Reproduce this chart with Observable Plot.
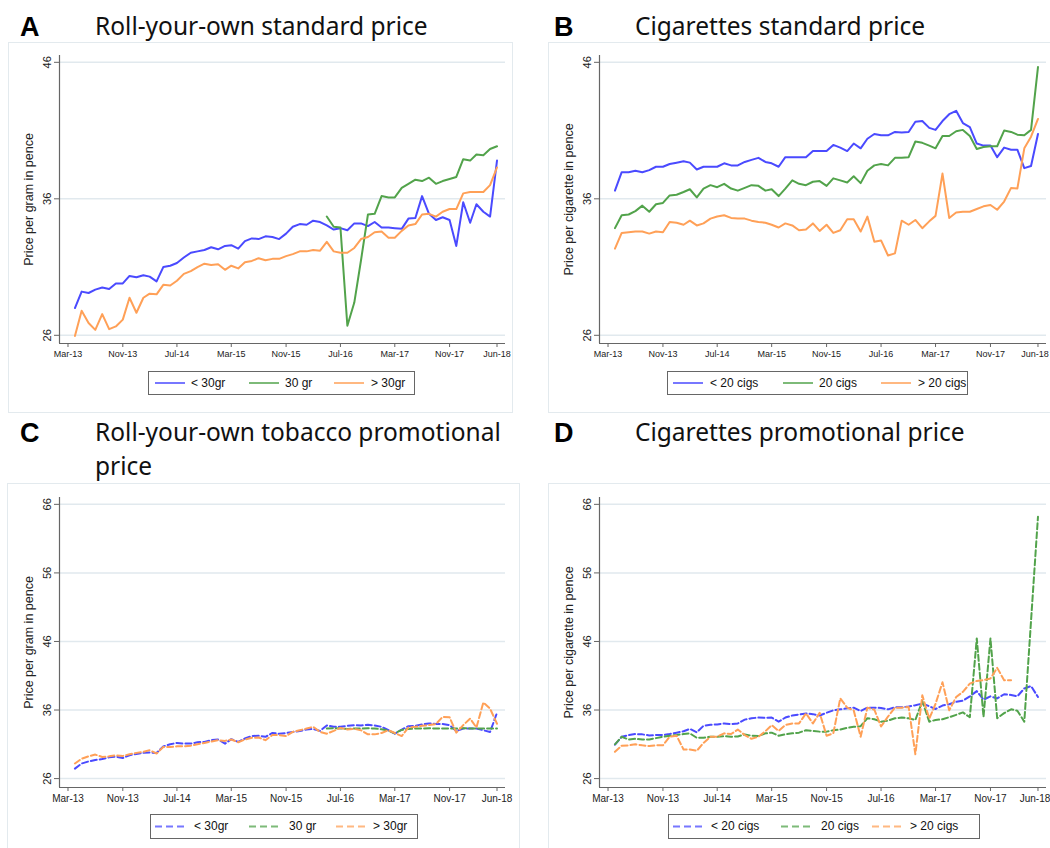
<!DOCTYPE html>
<html>
<head>
<meta charset="utf-8">
<script src="https://cdn.jsdelivr.net/npm/d3@7"></script>
<script src="https://cdn.jsdelivr.net/npm/@observablehq/plot@0.6"></script>
<style>
  html, body { margin: 0; padding: 0; background: #fff; }
  body { width: 1050px; height: 848px; overflow: hidden; position: relative; font-family: "Liberation Sans", Arial, sans-serif; }
  .box { position: absolute; border: 1.5px solid #e3eaee; box-sizing: border-box; }
  .letter { position: absolute; font: bold 27px/30px "Liberation Sans", Arial, sans-serif; color: #000; }
  .title { position: absolute; font: 24.5px/34px "Noto Sans", sans-serif; color: #111; }
  .legend { position: absolute; border: 1px solid #666; background: #fff; box-sizing: border-box; height: 24px; }
  .legend .item { position: absolute; top: 0; height: 22px; font: 12px/22px "Liberation Sans", Arial, sans-serif; color: #111; white-space: nowrap; }
  .legend svg { position: absolute; top: 0; }
</style>
</head>
<body>
<script>
// ---------- data ----------
const firstMonth = new Date(Date.UTC(2013, 3, 1));   // Apr-13
const lastMonthExcl = new Date(Date.UTC(2018, 6, 1)); // after Jun-18
const months = d3.utcMonth.range(firstMonth, lastMonthExcl); // 63 monthly observations

const tickLabels = ["Mar-13", "Nov-13", "Jul-14", "Mar-15", "Nov-15", "Jul-16", "Mar-17", "Nov-17", "Jun-18"];
const tickDates = [
  new Date(Date.UTC(2013, 2, 1)), new Date(Date.UTC(2013, 10, 1)), new Date(Date.UTC(2014, 6, 1)),
  new Date(Date.UTC(2015, 2, 1)), new Date(Date.UTC(2015, 10, 1)), new Date(Date.UTC(2016, 6, 1)),
  new Date(Date.UTC(2017, 2, 1)), new Date(Date.UTC(2017, 10, 1)), new Date(Date.UTC(2018, 5, 1))
];

const ryoKeys = ["< 30gr", "30 gr", "> 30gr"];
const cigKeys = ["< 20 cigs", "20 cigs", "> 20 cigs"];
const seriesColors = ["#4a4aff", "#52a34b", "#ffa057"];

// A: Roll-your-own standard price (pence per gram)
const ryoStdBelow30 = [28.0, 29.2, 29.1, 29.35, 29.5, 29.4, 29.8, 29.8, 30.35, 30.25,
  30.4, 30.3, 29.95, 31.0, 31.1, 31.3, 31.7, 32.05, 32.15, 32.25,
  32.45, 32.3, 32.55, 32.6, 32.35, 32.9, 33.1, 33.05, 33.25, 33.2,
  33.05, 33.45, 33.95, 34.15, 34.1, 34.4, 34.3, 34.05, 33.75, 33.85,
  33.7, 34.2, 34.2, 34.0, 34.3, 33.9, 33.9, 33.85, 33.8, 34.55,
  34.6, 36.2, 34.9, 34.45, 34.65, 34.45, 32.55, 35.75, 34.25, 35.6,
  35.05, 34.7, 38.8];
const ryoStd30 = [null, null, null, null, null, null, null, null, null, null,
  null, null, null, null, null, null, null, null, null, null,
  null, null, null, null, null, null, null, null, null, null,
  null, null, null, null, null, null, null, 34.7, 33.95, 33.9,
  26.7, 28.4, 31.5, 34.85, 34.9, 36.2, 36.1, 36.1, 36.8, 37.1,
  37.4, 37.3, 37.55, 37.1, 37.3, 37.45, 37.6, 38.9, 38.8, 39.25,
  39.2, 39.65, 39.85];
const ryoStdAbove30 = [25.95, 27.8, 26.9, 26.4, 27.55, 26.45, 26.65, 27.15, 28.75, 27.65,
  28.75, 29.05, 29.0, 29.7, 29.65, 30.0, 30.5, 30.7, 31.0, 31.25,
  31.15, 31.2, 30.8, 31.1, 30.9, 31.35, 31.45, 31.65, 31.5, 31.6,
  31.6, 31.8, 31.95, 32.15, 32.15, 32.25, 32.2, 32.85, 32.15, 32.05,
  32.05, 32.4, 33.05, 33.2, 33.55, 33.6, 33.15, 33.15, 33.65, 34.05,
  34.15, 34.85, 34.9, 34.7, 35.05, 35.25, 35.25, 36.4, 36.5, 36.5,
  36.5, 37.0, 38.3];

// B: Cigarettes standard price (pence per cigarette)
const cigStdBelow20 = [36.6, 37.95, 37.95, 38.05, 37.95, 38.1, 38.35, 38.35, 38.55, 38.65,
  38.75, 38.65, 38.15, 38.35, 38.35, 38.35, 38.6, 38.45, 38.45, 38.7,
  38.85, 39.0, 38.7, 38.6, 38.35, 39.05, 39.05, 39.05, 39.05, 39.5,
  39.5, 39.5, 39.95, 39.75, 39.5, 40.05, 39.7, 40.4, 40.75, 40.65,
  40.65, 40.9, 40.85, 40.9, 41.65, 41.7, 41.2, 41.05, 41.7, 42.2,
  42.45, 41.55, 41.25, 40.05, 39.9, 39.9, 39.05, 39.75, 39.6, 39.6,
  38.25, 38.4, 40.75];
const cigStd20 = [33.85, 34.8, 34.85, 35.1, 35.5, 35.05, 35.6, 35.7, 36.25, 36.3,
  36.5, 36.7, 36.1, 36.75, 37.0, 36.85, 37.1, 36.75, 36.6, 36.8,
  37.0, 36.95, 36.6, 36.7, 36.2, 36.75, 37.35, 37.1, 37.0, 37.25,
  37.3, 36.95, 37.5, 37.35, 37.2, 37.65, 37.15, 38.05, 38.45, 38.55,
  38.45, 39.0, 39.0, 39.05, 40.2, 40.1, 39.9, 39.7, 40.6, 40.6,
  40.95, 41.05, 40.6, 39.65, 39.8, 39.85, 39.85, 41.0, 40.9, 40.7,
  40.65, 41.05, 45.65];
const cigStdAbove20 = [32.35, 33.5, 33.55, 33.6, 33.6, 33.45, 33.6, 33.55, 34.3, 34.25,
  34.1, 34.4, 34.05, 34.2, 34.55, 34.7, 34.8, 34.6, 34.55, 34.55,
  34.4, 34.3, 34.25, 34.1, 33.9, 34.2, 34.05, 33.7, 33.75, 34.2,
  33.65, 34.1, 33.5, 33.7, 34.5, 34.5, 33.6, 34.7, 32.85, 32.95,
  31.85, 32.0, 34.4, 34.1, 34.45, 33.85, 34.35, 34.75, 37.85, 34.6,
  35.0, 35.05, 35.05, 35.25, 35.45, 35.55, 35.2, 35.8, 36.8, 36.75,
  39.7, 40.55, 41.85];

// C: Roll-your-own tobacco promotional price
const ryoPromoBelow30 = [27.45, 28.2, 28.5, 28.7, 28.85, 29.1, 29.2, 29.0, 29.4, 29.6,
  29.75, 29.8, 29.75, 30.7, 31.0, 31.2, 31.1, 31.1, 31.3, 31.35,
  31.6, 31.7, 31.1, 31.75, 31.35, 31.85, 32.2, 32.25, 32.1, 32.65,
  32.55, 32.65, 32.8, 32.95, 33.15, 33.25, 32.95, 33.75, 33.55, 33.55,
  33.7, 33.8, 33.75, 33.85, 33.75, 33.55, 33.05, 32.55, 33.15, 33.65,
  33.7, 33.9, 34.05, 33.95, 33.95, 33.8, 32.95, 33.3, 33.3, 33.3,
  33.05, 32.8, 35.6];
const ryoPromo30 = [null, null, null, null, null, null, null, null, null, null,
  null, null, null, null, null, null, null, null, null, null,
  null, null, null, null, null, null, null, null, null, null,
  null, null, null, null, null, null, null, 33.3, 33.35, 33.3,
  33.25, 33.3, 33.3, 33.35, 33.3, 33.2, 33.0, 32.6, 33.1, 33.25,
  33.3, 33.3, 33.35, 33.3, 33.3, 33.3, 33.3, 33.35, 33.3, 33.3,
  33.3, 33.3, 33.3];
const ryoPromoAbove30 = [28.2, 28.9, 29.25, 29.5, 29.15, 29.25, 29.4, 29.3, 29.55, 29.75,
  29.9, 30.15, 29.65, 30.6, 30.6, 30.7, 30.7, 30.8, 31.0, 31.2,
  31.4, 31.6, 31.5, 31.7, 31.3, 31.7, 31.95, 32.0, 31.6, 32.35,
  32.35, 32.2, 32.8, 33.05, 33.3, 33.55, 32.8, 32.55, 32.95, 33.4,
  33.15, 33.25, 33.05, 32.45, 32.45, 32.65, 33.05, 32.65, 32.2, 33.45,
  33.55, 33.7, 33.8, 33.95, 35.0, 34.95, 32.7, 33.8, 34.75, 33.45,
  37.1, 36.2, 34.0];

// D: Cigarettes promotional price
const cigPromoBelow20 = [30.95, 32.1, 32.35, 32.5, 32.45, 32.3, 32.35, 32.35, 32.5, 32.7,
  32.9, 33.25, 32.75, 33.7, 33.85, 33.9, 34.05, 33.95, 34.05, 34.6,
  34.8, 34.9, 34.85, 34.9, 34.3, 34.9, 35.2, 35.35, 35.5, 35.4,
  35.2, 35.6, 35.95, 36.1, 36.25, 36.35, 35.85, 36.35, 36.35, 36.3,
  36.1, 36.4, 36.4, 36.5, 36.7, 36.95, 36.55, 36.15, 36.65, 36.85,
  37.2, 37.35, 38.0, 38.75, 37.5, 38.0, 37.7, 38.3, 38.2, 38.0,
  39.15, 39.5, 37.9];
const cigPromo20 = [31.0, 32.1, 31.7, 31.8, 31.7, 31.7, 31.9, 32.1, 32.25, 32.35,
  32.5, 32.6, 31.95, 31.95, 32.1, 32.1, 32.2, 32.1, 32.15, 32.45,
  32.25, 32.2, 32.6, 32.7, 32.25, 32.45, 32.6, 32.7, 33.05, 32.95,
  32.85, 32.85, 33.05, 33.15, 33.4, 33.55, 33.65, 34.8, 34.65, 34.3,
  34.45, 34.8, 34.9, 34.8, 34.55, 37.3, 34.3, 34.55, 34.65, 34.95,
  35.3, 35.65, 34.95, 46.45, 35.0, 46.45, 34.8, 35.55, 36.1, 35.9,
  34.3, null, 64.2];
const cigPromoAbove20 = [29.9, 30.8, 30.85, 31.0, 30.85, 30.75, 30.85, 30.85, 32.1, 32.25,
  30.25, 30.25, 30.05, 31.2, 32.1, 32.1, 32.6, 32.5, 33.15, 32.35,
  31.8, 32.1, 32.9, 33.8, 32.95, 33.8, 34.05, 34.05, 35.5, 34.05,
  35.6, 32.25, 32.6, 37.7, 36.35, 35.95, 32.1, 36.35, 36.05, 33.6,
  35.05, 36.35, 36.35, 36.45, 29.55, 38.15, 34.75, 36.9, 40.05, 35.95,
  37.9, 38.65, 39.85, 40.25, 40.35, 40.6, 42.15, 40.35, 40.35, null,
  null, null, null];

const stdTicks = [26, 36, 46];
const promoTicks = [26, 36, 46, 56, 66];

// ---------- layout helpers ----------
const xDomain = [new Date(Date.UTC(2013, 0, 22)), new Date(Date.UTC(2018, 6, 9))];
const narrow = "'Liberation Sans Narrow', 'Liberation Sans', Arial, sans-serif";

function addDiv(cls, css, html) {
  const d = document.createElement("div");
  d.className = cls;
  Object.assign(d.style, css);
  if (html != null) d.innerHTML = html;
  document.body.appendChild(d);
  return d;
}

function makePanel(cfg) {
  const rows = [];
  cfg.series.forEach((vals, k) => {
    vals.forEach((v, i) => { if (v != null) rows.push({date: months[i], value: v, key: cfg.keys[k]}); });
  });
  const labelOf = d => tickLabels[tickDates.findIndex(t => +t === +d)];
  const chart = Plot.plot({
    width: cfg.width, height: cfg.height,
    marginTop: cfg.mt, marginBottom: cfg.mb, marginLeft: cfg.ml, marginRight: cfg.mr,
    style: {fontFamily: "'Liberation Sans', Arial, sans-serif", background: "transparent", color: "#222", overflow: "visible"},
    x: {type: "utc", domain: xDomain},
    y: {domain: cfg.yDomain},
    color: {domain: cfg.keys, range: seriesColors},
    marks: [
      Plot.gridY(cfg.yTicks, {stroke: "#e1e9ee", strokeOpacity: 1, strokeWidth: 1.5}),
      Plot.ruleX([xDomain[0]], {stroke: "#666", strokeWidth: 1.2}),
      Plot.ruleY([cfg.yDomain[0]], {stroke: "#666", strokeWidth: 1.2}),
      Plot.axisX(tickDates, {tickFormat: labelOf, tickSize: 4, tickPadding: 3, fontSize: cfg.xFont || 9,
        fontFamily: cfg.xFamily, stroke: "#666", fill: "#222", label: null}),
      // y ticks (marks only) + axis title
      Plot.axisY(cfg.yTicks, {tickFormat: () => "", tickSize: 5, stroke: "#666", fontSize: 12.5, fill: "#222",
        label: cfg.ylabel, labelAnchor: "center", labelOffset: 35, labelArrow: "none"}),
      // rotated y tick labels
      Plot.text(cfg.yTicks, {x: xDomain[0], y: d => d, text: d => String(d), rotate: -90, dx: -9,
        lineAnchor: "bottom", textAnchor: "middle", fontSize: 11, fill: "#222"}),
      Plot.line(rows, {x: "date", y: "value", z: "key", stroke: "key", strokeWidth: 2,
        strokeDasharray: cfg.dashed ? "6,3" : null, strokeLinejoin: "round"})
    ]
  });
  chart.style.position = "absolute";
  chart.style.left = cfg.left + "px";
  chart.style.top = cfg.top + "px";
  document.body.appendChild(chart);
  if (cfg.nudgeLast) {
    const labels = chart.querySelectorAll('g[aria-label="x-axis tick label"] text');
    const last = labels[labels.length - 1];
    if (last) last.setAttribute("dx", cfg.nudgeLast);
  }
  return chart;
}

function makeLegend(cfg) {
  const lg = addDiv("legend", {left: cfg.left + "px", top: cfg.top + "px", width: cfg.width + "px", height: cfg.height + "px"});
  cfg.keys.forEach((k, i) => {
    const sx = cfg.sampleX[i];
    const svg = document.createElementNS("http://www.w3.org/2000/svg", "svg");
    svg.setAttribute("width", 32); svg.setAttribute("height", cfg.height - 2);
    svg.style.left = sx + "px";
    const ln = document.createElementNS("http://www.w3.org/2000/svg", "line");
    ln.setAttribute("x1", 0); ln.setAttribute("x2", 30);
    ln.setAttribute("y1", (cfg.height - 2) / 2); ln.setAttribute("y2", (cfg.height - 2) / 2);
    ln.setAttribute("stroke", seriesColors[i]); ln.setAttribute("stroke-width", 2);
    ln.setAttribute("stroke-opacity", 0.75);
    if (cfg.dashed) ln.setAttribute("stroke-dasharray", "7,4");
    svg.appendChild(ln);
    lg.appendChild(svg);
    const it = document.createElement("div");
    it.className = "item";
    it.style.left = cfg.labelX[i] + "px";
    it.style.lineHeight = (cfg.height - 2) + "px";
    if (cfg.family) it.style.fontFamily = cfg.family;
    it.textContent = k;
    lg.appendChild(it);
  });
}

// ---------- panel boxes ----------
addDiv("box", {left: "8px", top: "42px", width: "505px", height: "371px"});
addDiv("box", {left: "548px", top: "42px", width: "520px", height: "371px"});
addDiv("box", {left: "7px", top: "483px", width: "513px", height: "400px"});
addDiv("box", {left: "548px", top: "483px", width: "520px", height: "400px"});

// ---------- titles ----------
addDiv("letter", {left: "20px", top: "12px"}, "A");
addDiv("title", {left: "95px", top: "9px"}, "Roll-your-own standard price");
addDiv("letter", {left: "554px", top: "12px"}, "B");
addDiv("title", {left: "635px", top: "9px"}, "Cigarettes standard price");
addDiv("letter", {left: "20px", top: "418px"}, "C");
addDiv("title", {left: "95px", top: "415px"}, "Roll-your-own tobacco promotional<br>price");
addDiv("letter", {left: "554px", top: "418px"}, "D");
addDiv("title", {left: "635px", top: "415px"}, "Cigarettes promotional price");

// ---------- charts ----------
makePanel({left: 8, top: 43, width: 504, height: 322, mt: 12, mb: 22, ml: 51, mr: 7,
  yDomain: [25.4, 46.5], yTicks: stdTicks, ylabel: "Price per gram in pence",
  keys: ryoKeys, series: [ryoStdBelow30, ryoStd30, ryoStdAbove30], dashed: false});
makePanel({left: 548, top: 43, width: 502, height: 322, mt: 12, mb: 22, ml: 51, mr: 4,
  yDomain: [25.4, 46.5], yTicks: stdTicks, ylabel: "Price per cigarette in pence",
  keys: cigKeys, series: [cigStdBelow20, cigStd20, cigStdAbove20], dashed: false, nudgeLast: -3});
makePanel({left: 8, top: 485, width: 504, height: 324, mt: 12, mb: 22, ml: 51, mr: 7,
  yDomain: [24.7, 67.0], yTicks: promoTicks, ylabel: "Price per gram in pence",
  keys: ryoKeys, series: [ryoPromoBelow30, ryoPromo30, ryoPromoAbove30], dashed: true,
  xFamily: narrow, xFont: 10});
makePanel({left: 548, top: 485, width: 502, height: 324, mt: 12, mb: 22, ml: 51, mr: 4,
  yDomain: [24.7, 67.0], yTicks: promoTicks, ylabel: "Price per cigarette in pence",
  keys: cigKeys, series: [cigPromoBelow20, cigPromo20, cigPromoAbove20], dashed: true,
  xFamily: narrow, xFont: 10, nudgeLast: -3});

// ---------- legends ----------
makeLegend({left: 148, top: 371, width: 267, height: 24, keys: ryoKeys, sampleX: [6, 100, 185], labelX: [42, 136, 222]});
makeLegend({left: 667, top: 371, width: 301, height: 24, keys: cigKeys, sampleX: [5, 115, 213], labelX: [42, 151, 250]});
makeLegend({left: 150, top: 814, width: 268, height: 25, keys: ryoKeys, sampleX: [4, 98, 185], labelX: [43, 138, 222], dashed: true, family: narrow});
makeLegend({left: 668, top: 814, width: 312, height: 25, keys: cigKeys, sampleX: [4, 112, 203], labelX: [42, 152, 241], dashed: true, family: narrow});
</script>
</body>
</html>
